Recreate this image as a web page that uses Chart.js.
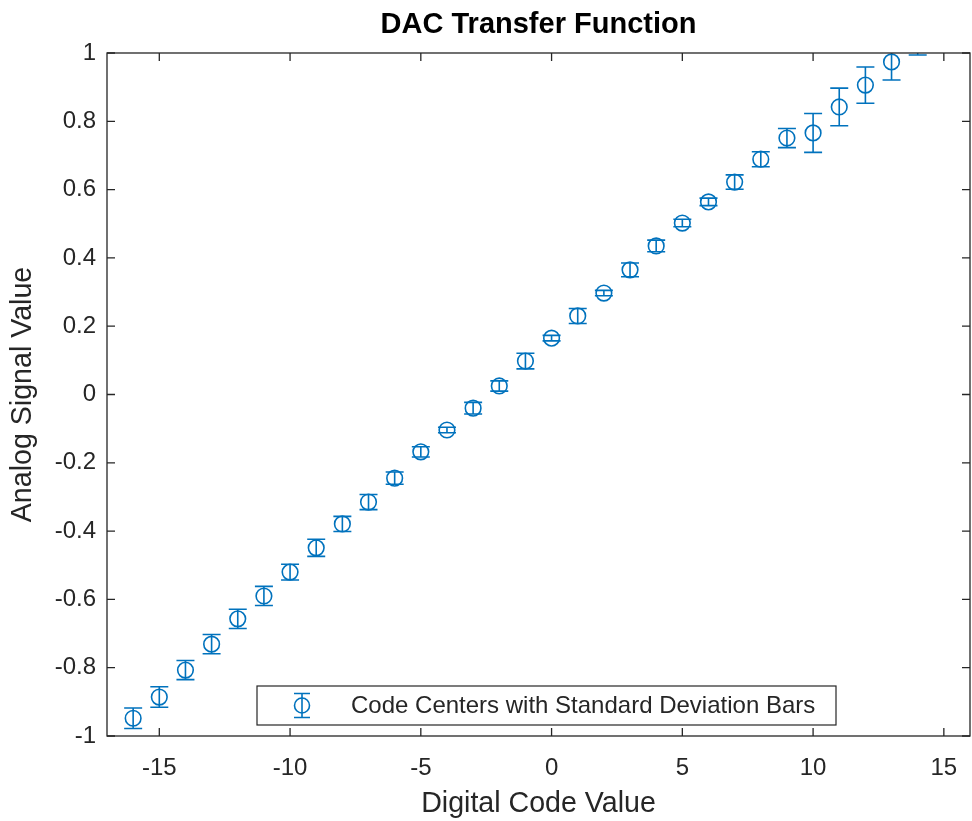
<!DOCTYPE html>
<html>
<head>
<meta charset="utf-8">
<script src="https://cdn.jsdelivr.net/npm/chart.js@4/dist/chart.umd.min.js"></script>
<style>
  html, body { margin: 0; padding: 0; background: #fff; }
  canvas { display: block; }
</style>
</head>
<body>
<canvas id="c" width="972" height="821"></canvas>
<script>
// ---- data ----
const codes = [-16,-15,-14,-13,-12,-11,-10,-9,-8,-7,-6,-5,-4,-3,-2,-1,0,1,2,3,4,5,6,7,8,9,10,11,12,13,14];
const centers = [-0.948,-0.886,-0.807,-0.731,-0.657,-0.590,-0.520,-0.449,-0.379,-0.315,-0.245,-0.168,-0.104,-0.040,0.025,0.098,0.165,0.230,0.297,0.365,0.435,0.502,0.564,0.622,0.689,0.751,0.766,0.842,0.906,0.974,1.044];
const stdDevs = [0.030,0.030,0.028,0.028,0.028,0.028,0.023,0.025,0.022,0.022,0.018,0.015,0.008,0.017,0.015,0.023,0.008,0.022,0.008,0.020,0.017,0.011,0.011,0.021,0.022,0.028,0.057,0.055,0.053,0.053,0.050];
const xTicks = [-15,-10,-5,0,5,10,15];
const yTicks = [-1,-0.8,-0.6,-0.4,-0.2,0,0.2,0.4,0.6,0.8,1];
const xRange = [-17, 16];
const yRange = [-1, 1];
const titleText = 'DAC Transfer Function';
const xLabel = 'Digital Code Value';
const yLabel = 'Analog Signal Value';
const seriesLabel = 'Code Centers with Standard Deviation Bars';

// ---- style ----
const BLUE = '#0072BD';
const AXIS = '#262626';
const FONT = "'Liberation Sans', Arial, Helvetica, sans-serif";

function fixPadding(s) {
  s.paddingLeft = 0; s.paddingRight = 0; s.paddingTop = 0; s.paddingBottom = 0;
}

const errorBarPlugin = {
  id: 'errorBars',
  afterDatasetsDraw(chart) {
    const {ctx, chartArea, scales: {x, y}} = chart;
    ctx.save();
    ctx.beginPath();
    ctx.rect(chartArea.left, chartArea.top, chartArea.right - chartArea.left, chartArea.bottom - chartArea.top);
    ctx.clip();
    ctx.strokeStyle = BLUE;
    ctx.lineWidth = 1.6;
    const cap = 9;
    for (let i = 0; i < codes.length; i++) {
      const px = x.getPixelForValue(codes[i]);
      const yHi = y.getPixelForValue(centers[i] + stdDevs[i]);
      const yLo = y.getPixelForValue(centers[i] - stdDevs[i]);
      ctx.beginPath();
      ctx.moveTo(px, yHi); ctx.lineTo(px, yLo);
      ctx.moveTo(px - cap, yHi); ctx.lineTo(px + cap, yHi);
      ctx.moveTo(px - cap, yLo); ctx.lineTo(px + cap, yLo);
      ctx.stroke();
    }
    ctx.restore();
  }
};

const boxPlugin = {
  id: 'axesBox',
  afterDraw(chart) {
    const {ctx, chartArea: a, scales: {x, y}} = chart;
    ctx.save();
    ctx.strokeStyle = AXIS;
    ctx.lineWidth = 1.3;
    ctx.strokeRect(a.left, a.top, a.right - a.left, a.bottom - a.top);
    const tl = 8;
    ctx.beginPath();
    xTicks.forEach(v => {
      const px = x.getPixelForValue(v);
      ctx.moveTo(px, a.bottom); ctx.lineTo(px, a.bottom - tl);
      ctx.moveTo(px, a.top); ctx.lineTo(px, a.top + tl);
    });
    yTicks.forEach(v => {
      const py = y.getPixelForValue(v);
      ctx.moveTo(a.left, py); ctx.lineTo(a.left + tl, py);
      ctx.moveTo(a.right, py); ctx.lineTo(a.right - tl, py);
    });
    ctx.stroke();

    // legend box
    const lx = 257, ly = 686, lw = 579, lh = 39;
    ctx.fillStyle = '#fff';
    ctx.fillRect(lx, ly, lw, lh);
    ctx.lineWidth = 1.2;
    ctx.strokeStyle = AXIS;
    ctx.strokeRect(lx, ly, lw, lh);
    const cx = 302, cy = ly + lh / 2;
    ctx.strokeStyle = BLUE;
    ctx.lineWidth = 1.6;
    ctx.beginPath();
    ctx.moveTo(cx, cy - 12); ctx.lineTo(cx, cy + 12);
    ctx.moveTo(cx - 8, cy - 12); ctx.lineTo(cx + 8, cy - 12);
    ctx.moveTo(cx - 8, cy + 12); ctx.lineTo(cx + 8, cy + 12);
    ctx.stroke();
    ctx.beginPath();
    ctx.arc(cx, cy, 7.5, 0, Math.PI * 2);
    ctx.stroke();
    ctx.fillStyle = AXIS;
    ctx.font = '24px ' + FONT;
    ctx.textAlign = 'left';
    ctx.textBaseline = 'middle';
    ctx.fillText(seriesLabel, 351, cy + 1);
    ctx.restore();
  }
};

new Chart(document.getElementById('c'), {
  type: 'scatter',
  data: {
    datasets: [{
      label: seriesLabel,
      data: codes.map((c, i) => ({x: c, y: centers[i]})),
      showLine: false,
      pointStyle: 'circle',
      pointRadius: 7.8,
      pointHoverRadius: 7.8,
      pointBorderWidth: 1.6,
      borderColor: BLUE,
      pointBorderColor: BLUE,
      pointBackgroundColor: 'rgba(0,0,0,0)',
      backgroundColor: 'rgba(0,0,0,0)',
      clip: 0
    }]
  },
  options: {
    responsive: false,
    animation: false,
    events: [],
    layout: { autoPadding: false, padding: { left: 0, right: 2, top: 0, bottom: 0 } },
    plugins: {
      legend: { display: false },
      tooltip: { enabled: false },
      title: {
        display: true,
        text: titleText,
        fullSize: false,
        color: '#000',
        font: { family: FONT, size: 29, weight: 'bold', lineHeight: 1.2 },
        padding: { top: 8, bottom: 10.2 }
      }
    },
    scales: {
      x: {
        type: 'linear',
        min: xRange[0],
        max: xRange[1],
        grid: { display: false, drawTicks: false },
        border: { display: false },
        afterBuildTicks: s => { s.ticks = xTicks.map(v => ({value: v})); },
        afterFit: s => { s.height = 85; fixPadding(s); },
        ticks: {
          color: AXIS,
          padding: 18,
          maxRotation: 0,
          font: { family: FONT, size: 24 },
          callback: v => String(v)
        },
        title: {
          display: true,
          text: xLabel,
          color: AXIS,
          font: { family: FONT, size: 28.6, lineHeight: 1.2 },
          padding: { top: 0, bottom: 0 }
        }
      },
      y: {
        type: 'linear',
        min: yRange[0],
        max: yRange[1],
        grid: { display: false, drawTicks: false },
        border: { display: false },
        afterBuildTicks: s => { s.ticks = yTicks.map(v => ({value: v})); },
        afterFit: s => { s.width = 107; fixPadding(s); },
        ticks: {
          color: AXIS,
          padding: 11,
          font: { family: FONT, size: 24 },
          callback: v => String(Math.round(v * 10) / 10)
        },
        title: {
          display: true,
          text: yLabel,
          color: AXIS,
          font: { family: FONT, size: 28.6, lineHeight: 1.2 },
          padding: { top: 6, bottom: 0 }
        }
      }
    }
  },
  plugins: [errorBarPlugin, boxPlugin]
});
</script>
</body>
</html>
